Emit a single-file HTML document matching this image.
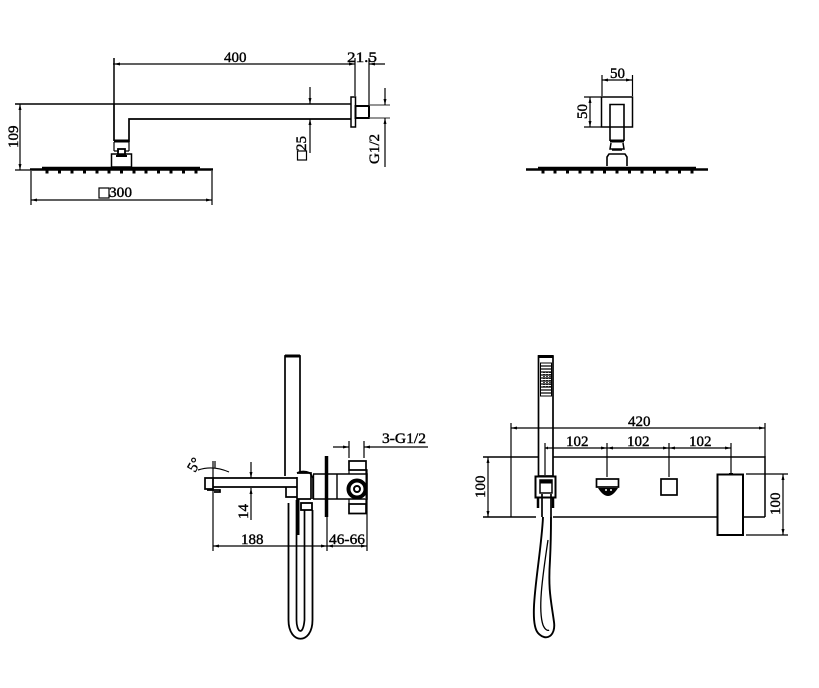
<!DOCTYPE html>
<html><head><meta charset="utf-8"><style>
html,body{margin:0;padding:0;background:#fff}
svg{display:block}
text{font-family:"Liberation Serif",serif;font-size:15px;fill:#000;stroke:#000;stroke-width:.4}
</style></head><body>
<svg width="819" height="688" viewBox="0 0 819 688" xmlns="http://www.w3.org/2000/svg">
<g fill="none" stroke="#000" stroke-width="1.200">
<!-- TOP LEFT -->
<path d="M15 104H351M114 58V104" stroke-width="1.500"/>
<path d="M114 104V141M129 142V119H351" stroke-width="1.700"/>
<path d="M113 64H355M369 64H385M355 58V96M369 58V105"/>
<rect x="351" y="97" width="4.500" height="30" stroke-width="1.500"/>
<rect x="355.500" y="106" width="13.500" height="12" stroke-width="2"/>
<path d="M369 105H390M369 118H390" stroke="#555"/>
<path d="M385 88V105M385 118V167M310 87V104M310 119V153M20 104V170M15 170H30"/>
<path d="M31 171V205M212 171V205M31 200H212"/>
<path d="M114 141H129" stroke-width="3"/>
<path d="M114 142V151M129 142V151M114 151H119M125 151H129"/>
<rect x="118" y="149" width="7" height="6" stroke-width="1.800"/>
<path d="M116 156H127" stroke-width="2"/>
<rect x="111.500" y="154" width="20" height="13" stroke-width="1.500"/>
<path d="M30 169.500H213" stroke-width="2.500"/>
<path d="M42 168.500H200" stroke-width="3.500"/>
<path d="M47 170V173.500M59.500 170V173.500M72 170V173.500M84.500 170V173.500M97 170V173.500M109 170V173.500M121.500 170V173.500M134 170V173.500M146 170V173.500M158.500 170V173.500M171 170V173.500M183.500 170V173.500M196 170V173.500" stroke-width="3"/>
<rect x="99" y="188" width="10" height="10"/>
<rect x="297.500" y="151" width="9" height="9"/>
<!-- TOP RIGHT -->
<path d="M602 75V96M632.500 75V96M602 80H632M590 97V127M584 97H601M584 127H601"/>
<rect x="601.500" y="97" width="31" height="30" stroke-width="1.500"/>
<path d="M610 141V104.500H624V141" stroke-width="1.600"/>
<path d="M610 141H624" stroke-width="3"/>
<path d="M611 143L610 149H624L623 143M612 150H622" stroke-width="1.500"/>
<path d="M607 166V157L609 154H625L627 157V166" stroke-width="1.600"/>
<path d="M526 169.500H708" stroke-width="2.600"/>
<path d="M538 168.500H696" stroke-width="3.500"/>
<path d="M543 170V173.500M555 170V173.500M567.500 170V173.500M580 170V173.500M592 170V173.500M604.500 170V173.500M617 170V173.500M629.500 170V173.500M642 170V173.500M654.500 170V173.500M667 170V173.500M679.500 170V173.500M692 170V173.500" stroke-width="3"/>
<!-- BOTTOM LEFT -->
<path d="M285 476V356H300V472" stroke-width="1.700"/>
<path d="M285 356H300" stroke-width="3"/>
<path d="M213 478H297M213 487H297" stroke-width="1.700"/>
<path d="M205 478H213V489H205Z" stroke-width="1.700"/>
<path d="M207 490H220V492H214" stroke-width="1.700"/>
<path d="M213 461V551M213 546H367M327 517V551M367 470V551"/>
<path d="M198 470Q213 465 229 472M215 461V468"/>
<path d="M251 462V478M251 488V520"/>
<path d="M333 447H349M364 447H428M349 441V458M364 441V458"/>
<path d="M297 477V499H311M286 487V497H297M297 473H311V499" stroke-width="1.700"/>
<path d="M297 473Q303 470 310 473L313 478V499" stroke-width="1.700"/>
<path d="M313 474H325M313 499H325M328 474H337M328 499H337" stroke-width="1.400"/>
<path d="M326.500 456V517" stroke-width="3.500"/>
<path d="M313.500 474V499M337 474V499" stroke-width="1.400"/>
<path d="M337 474H367V499H337" stroke-width="1.500"/>
<path d="M349 461H366V470H349ZM349 504H366V513.500H349Z" stroke-width="1.700"/>
<path d="M349 470V474M366 470V474M349 499V504M366 499V504"/>
<circle cx="357" cy="489" r="8.500" stroke-width="4"/>
<circle cx="357" cy="489" r="3" stroke-width="2"/>
<path d="M366.500 469V498" stroke-width="2"/>
<rect x="301" y="503" width="11" height="7" stroke-width="1.800"/>
<path d="M298 499L298 535" stroke-width="3"/>
<path d="M288.500 503V620C288.500 645 312.500 645 312.500 620V510" stroke-width="1.800"/>
<path d="M296.500 500V620C296.500 632 303 637 304.500 620V510" stroke-width="1.700"/>
<!-- BOTTOM RIGHT -->
<path d="M483 457H538M553 457H765V517M483 517H536M553 517H717M743 517H765" stroke-width="1.500"/>
<path d="M511 423V517M511 428H765M765 423V457M488 457V517"/>
<path d="M545 443V475M607 443V477M669 443V477M731 443V474M545 448H731"/>
<path d="M746 474H788M746 535H788M783 474V535"/>
<rect x="538.500" y="356" width="14.500" height="120" stroke-width="1.700"/>
<path d="M538 356.500H553" stroke-width="3"/>
<rect x="540.500" y="363" width="11" height="33" stroke-width="1"/>
<path d="M541 366H551M541 369H551M541 372H551M541 375H551M541 378H551M541 381H551M541 384H551M541 387H551M541 390H551M541 393H551" stroke-width="1.200"/>
<path d="M544 372V387M547 372V387M550 372V387" stroke-dasharray="1 1" stroke-width="1.500"/>
<rect x="535.500" y="476.500" width="20" height="21" stroke-width="2"/>
<path d="M540 480H552V493H540Z" stroke-width="1.500"/>
<path d="M540 482H552" stroke-width="3"/>
<path d="M538 498V508M553 498V508" stroke-width="2.500"/>
<path d="M542 494V517M551 494V517" stroke-width="1.700"/>
<path d="M543 517C541 560 527 620 538 633C546 642 556 636 554 622C551 600 548 590 550 560C551 540 551 530 551 517" stroke-width="1.900"/>
<path d="M548 540C542 580 538 610 543 625C545 630 548 631 549 630" stroke-width="1.300"/>
<rect x="596.500" y="479" width="22" height="8" stroke-width="1.700"/>
<path d="M598 488H618Q613 496 608 496Q603 496 598 488Z" fill="#000" stroke="none"/>
<path d="M605 490h2M610 490h2" stroke="#fff" stroke-width="1.500"/>
<rect x="661" y="479" width="16" height="16" stroke-width="1.700"/>
<rect x="717.500" y="474.500" width="25.500" height="60.500" fill="#fff" stroke-width="2"/>
<path d="M729 474H733" stroke-width="2"/>
</g>
<!-- arrowheads -->
<g fill="#000" stroke="none">
<path d="M114 64l6-1.500v3zM355 64l-6-1.500v3zM369 64l6-1.500v3zM385 105l-1.500-6h3zM385 118l-1.500 6h3zM310 104l-1.500-6h3zM310 119l-1.500 6h3zM20 104l-1.500 6h3zM20 170l-1.500-6h3zM31 200l6-1.500v3zM212 200l-6-1.500v3z"/>
<path d="M602 80l6-1.500v3zM632 80l-6-1.500v3zM590 97l-1.500 6h3zM590 127l-1.500-6h3z"/>
<path d="M213 546l6-1.500v3zM327 546l-6-1.500v3zM327 546l6-1.500v3zM367 546l-6-1.500v3zM349 447l-6-1.500v3zM364 447l6-1.500v3zM251 478l-1.500-6h3zM251 488l-1.500 6h3z"/>
<path d="M511 428l6-1.500v3zM765 428l-6-1.500v3zM545 448l3-1.500v3zM607 448l-6-1.500v3zM607 448l6-1.500v3zM669 448l-6-1.500v3zM669 448l6-1.500v3zM731 448l-6-1.500v3zM488 457l-1.500 6h3zM488 517l-1.500-6h3zM783 474l-1.500 6h3zM783 535l-1.500-6h3z"/>
</g>
<!-- labels -->
<text x="224" y="62">400</text>
<text x="347" y="62" textLength="30" lengthAdjust="spacingAndGlyphs">21.5</text>
<text x="109" y="197" textLength="23" lengthAdjust="spacingAndGlyphs">300</text>
<text transform="translate(18 148) rotate(-90)">109</text>
<text transform="translate(306 151) rotate(-90)">25</text>
<text transform="translate(379 164) rotate(-90)" textLength="30" lengthAdjust="spacingAndGlyphs">G1/2</text>
<text x="610" y="78">50</text>
<text transform="translate(587 119) rotate(-90)">50</text>
<text transform="translate(195 473) rotate(-60)">5°</text>
<text transform="translate(248 519) rotate(-90)">14</text>
<text x="241" y="544">188</text>
<text x="329" y="544" textLength="36" lengthAdjust="spacingAndGlyphs">46-66</text>
<text x="382" y="443" textLength="44" lengthAdjust="spacingAndGlyphs">3-G1/2</text>
<text x="628" y="426">420</text>
<text x="566" y="446">102</text>
<text x="627" y="446">102</text>
<text x="689" y="446">102</text>
<text transform="translate(485 498) rotate(-90)">100</text>
<text transform="translate(780 515) rotate(-90)">100</text>
</svg>
</body></html>
